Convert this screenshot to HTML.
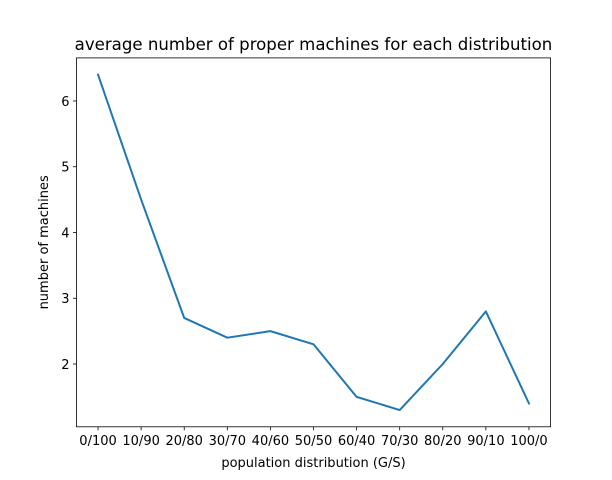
<!DOCTYPE html>
<html><head><meta charset="utf-8"><style>
body{margin:0;background:#fff;}
svg{display:block;font-family:"DejaVu Sans","Liberation Sans",sans-serif;}
</style></head><body>
<svg id="chart" width="612" height="480"></svg>
<script>
const categories=["0/100","10/90","20/80","30/70","40/60","50/50","60/40","70/30","80/20","90/10","100/0"];
const values=[6.4,4.5,2.7,2.4,2.5,2.3,1.5,1.3,2.0,2.8,1.4];
const yTicks=[2,3,4,5,6];
const L=76.5,R=550.5,T=57.9,B=426.8;
const ns="http://www.w3.org/2000/svg";
const svg=document.getElementById('chart');
const vmin=Math.min(...values),vmax=Math.max(...values),pad=(vmax-vmin)*0.05;
const y0=vmin-pad,y1=vmax+pad;
const xs=i=>L+(i+0.5)*(R-L)/categories.length;
const ys=v=>B-(v-y0)/(y1-y0)*(B-T);
function mk(tag,attrs,txt){const e=document.createElementNS(ns,tag);for(const k in attrs)e.setAttribute(k,attrs[k]);if(txt!==undefined)e.textContent=txt;svg.appendChild(e);return e;}
let e;
e=mk('rect',{x:L,y:T,width:R-L,height:B-T,fill:'none',stroke:'#000','stroke-width':0.8});


categories.forEach((c,i)=>{
 e=mk('line',{x1:xs(i),x2:xs(i),y1:B,y2:B+3.5,stroke:'#000','stroke-width':0.8});
 
 
 e=mk('text',{x:xs(i),y:B+18,'text-anchor':'middle','font-size':13},c);
 
 
});
yTicks.forEach(t=>{
 e=mk('line',{x1:L-3.5,x2:L,y1:ys(t),y2:ys(t),stroke:'#000','stroke-width':0.8});
 
 
 e=mk('text',{x:L-7,y:ys(t)+4.8,'text-anchor':'end','font-size':13},String(t));
 
 
});
e=mk('polyline',{points:values.map((v,i)=>xs(i)+','+ys(v)).join(' '),fill:'none',stroke:'#1f77b4','stroke-width':2,'stroke-linejoin':'round','stroke-linecap':'square'});


e=mk('text',{x:(L+R)/2,y:50,'text-anchor':'middle','font-size':16.6},'average number of proper machines for each distribution');


e=mk('text',{x:(L+R)/2,y:467,'text-anchor':'middle','font-size':13},'population distribution (G/S)');


e=mk('text',{x:48,y:(T+B)/2,'text-anchor':'middle','font-size':13,transform:'rotate(-90 48 '+((T+B)/2)+')'},'number of machines');


</script>
</body></html>
